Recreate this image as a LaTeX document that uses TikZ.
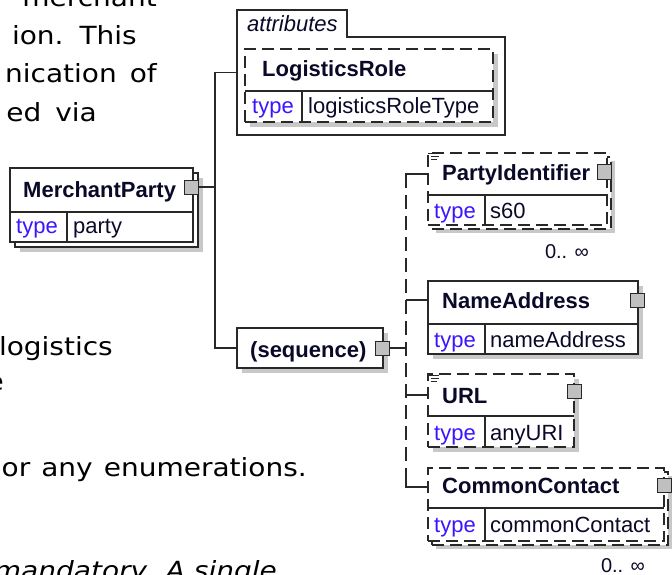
\documentclass[tikz,border=0pt]{standalone}
\usepackage{fontspec}
\setmainfont{Liberation Sans}
\newfontfamily\bgfont[FakeStretch=1.12]{DejaVu Sans}
\definecolor{linec}{RGB}{40,40,40}
\definecolor{shadowc}{RGB}{200,200,200}
\definecolor{sqc}{RGB}{192,192,192}
\definecolor{typec}{RGB}{60,20,255}
\definecolor{namec}{RGB}{10,10,40}
\tikzset{
 box/.style={draw=linec, line width=1.2pt, fill=white, inner sep=0pt, outer sep=0pt, anchor=north west},
 dbox/.style={box, dash pattern=on 12pt off 6pt},
 shade/.style={fill=shadowc, draw=none},
 divline/.style={draw=linec, line width=1.2pt},
 sqbox/.style={draw=linec, fill=sqc, line width=1pt, minimum size=14pt, inner sep=0pt, outer sep=0pt},
 elname/.style={font=\bfseries\fontsize{22}{26}\selectfont, text=namec, anchor=base west, inner sep=0pt},
 typelbl/.style={font=\fontsize{22}{26}\selectfont, text=typec, anchor=base west, inner sep=0pt},
 typeval/.style={font=\fontsize{22}{26}\selectfont, text=namec, anchor=base west, inner sep=0pt},
 conn/.style={draw=linec, line width=1.2pt},
 dconn/.style={conn, dash pattern=on 14pt off 7pt},
 bgtext/.style={font=\bgfont\fontsize{25}{30}\selectfont, anchor=base east, inner sep=0pt, text=black},
 card/.style={font=\fontsize{20}{22}\selectfont, anchor=base, inner sep=0pt, text=namec},
 docicon/.style={draw=linec, line width=1pt},
}
\begin{document}
\begin{tikzpicture}[x=1pt,y=-1pt]
\useasboundingbox (0,0) rectangle (672,575);
\fill[white] (0,0) rectangle (672,575);
\clip (0,0) rectangle (672,575);

% background document text (lines cut at the left edge)
\node[bgtext] (t1) at (157,7) {merchant};
\node[bgtext] (t2) at (137,45) {ion.\hspace{16pt}This};
\node[bgtext] (t3) at (157,83) {nication\hspace{13pt}of};
\node[bgtext] (t4) at (97,122) {ed\hspace{14pt}via};
\node[bgtext] (t5) at (113,355) {logistics};
\node[bgtext] (t6) at (4,390) {e};
\node[bgtext] (t7) at (307,476) {or\hspace{11pt}any\hspace{11pt}enumerations.};
\node[bgtext, font=\bgfont\itshape\fontsize{25}{30}\selectfont] (t8) at (277,579) {mandatory. A single};

% MerchantParty
\fill[shade] (20,178) rectangle (203,252);
\node[box, minimum width=183pt, minimum height=74pt] (mpback) at (15,173) {};
\node[box, minimum width=183pt, minimum height=74pt] (mp) at (10,168) {};
\draw[divline] (10,212) -- (193,212) (67,212) -- (67,242);
\node[elname] (mpname) at (23,197) {MerchantParty};
\node[typelbl] (mptl) at (16,233) {type};
\node[typeval] (mptv) at (73,233) {party};
\node[sqbox] (mpsq) at (191,187) {};

% attributes
\node[inner sep=0pt, outer sep=0pt, minimum width=268pt, minimum height=125pt, anchor=north west] (attr) at (237,10) {};
\draw[conn] (attr.north west) -- (347,10) -- (347,37) -- (attr.east |- 0,37) -- (attr.south east) -- (attr.south west) -- cycle;
\node[elname, font=\itshape\fontsize{22}{26}\selectfont] (attrlbl) at (247,32) {attributes};
\fill[shade] (250,54) rectangle (498,127);
\node[dbox, minimum width=248pt, minimum height=73pt] (lr) at (245,49) {};
\draw[divline] (245,91) -- (493,91) (302,91) -- (302,122);
\node[elname] (lrname) at (262,77) {LogisticsRole};
\node[typelbl] (lrtl) at (252,114) {type};
\node[typeval] (lrtv) at (308,114) {logisticsRoleType};

% sequence
\fill[shade] (242,333) rectangle (388,373);
\node[box, minimum width=146pt, minimum height=40pt] (seq) at (237,328) {};
\node[elname] (seqname) at (250,357) {(sequence)};
\node[sqbox] (seqsq) at (382,348) {};

% trunk connectors
\coordinate (trunk) at (215,187);
\draw[conn] (mpsq.east) -- (trunk);
\draw[conn] (attr.west) -| (trunk) |- (seq.west);

% PartyIdentifier
\fill[shade] (436,161) rectangle (615,233);
\node[dbox, minimum width=179pt, minimum height=72pt] (piback) at (432,157) {};
\node[dbox, minimum width=179pt, minimum height=72pt] (pi) at (428,153) {};
\draw[divline] (428,195) -- (607,195) (485,195) -- (485,225);
\draw[docicon] (428,154) -- (439,154) (431,157) -- (439,157) (431,160) -- (437,160);
\node[elname] (piname) at (442,180) {PartyIdentifier};
\node[typelbl] (pitl) at (434,218) {type};
\node[typeval] (pitv) at (490,218) {s60};
\node[sqbox] (pisq) at (604,172) {};
\node[card] (picard) at (567,258) {0.. ∞};

% NameAddress
\fill[shade] (433,286) rectangle (643,359);
\node[box, minimum width=210pt, minimum height=73pt] (na) at (428,281) {};
\draw[divline] (428,324) -- (638,324) (485,324) -- (485,354);
\node[elname] (naname) at (442,308) {NameAddress};
\node[typelbl] (natl) at (434,347) {type};
\node[typeval] (natv) at (490,347) {nameAddress};
\node[sqbox] (nasq) at (637,300) {};

% URL
\fill[shade] (433,379) rectangle (579,452);
\node[dbox, minimum width=146pt, minimum height=73pt] (url) at (428,374) {};
\draw[divline] (428,416) -- (574,416) (485,416) -- (485,447);
\draw[docicon] (428,375) -- (439,375) (431,378) -- (439,378) (431,381) -- (437,381);
\node[elname] (urlname) at (442,403) {URL};
\node[typelbl] (urltl) at (434,440) {type};
\node[typeval] (urltv) at (490,440) {anyURI};
\node[sqbox] (urlsq) at (574,391) {};

% CommonContact
\fill[shade] (436,476) rectangle (672,549);
\node[dbox, minimum width=236pt, minimum height=73pt] (ccback) at (432,472) {};
\node[dbox, minimum width=236pt, minimum height=73pt] (cc) at (428,468) {};
\draw[divline] (428,508) -- (664,508) (485,508) -- (485,541);
\node[elname] (ccname) at (442,493) {CommonContact};
\node[typelbl] (cctl) at (434,532) {type};
\node[typeval] (cctv) at (490,532) {commonContact};
\node[sqbox] (ccsq) at (664,485) {};
\node[card] (cccard) at (623,572) {0.. ∞};

% sequence children connectors
\coordinate (strunk) at (406,348);
\coordinate (piW) at (pi.west |- 0,174);
\coordinate (naW) at (na.west |- 0,300);
\coordinate (urlW) at (url.west |- 0,395);
\coordinate (ccW) at (cc.west |- 0,487);
\draw[conn] (seqsq.east) -- (strunk);
\draw[dconn] (strunk |- piW) -- (strunk |- ccW);
\draw[conn] (piW) -- (strunk |- piW) -- ++(0,8);
\draw[conn] (strunk |- naW) -- (naW);
\draw[conn] (strunk |- urlW) -- (urlW);
\draw[conn] (ccW) -- (strunk |- ccW) -- ++(0,-8);
\end{tikzpicture}
\end{document}
